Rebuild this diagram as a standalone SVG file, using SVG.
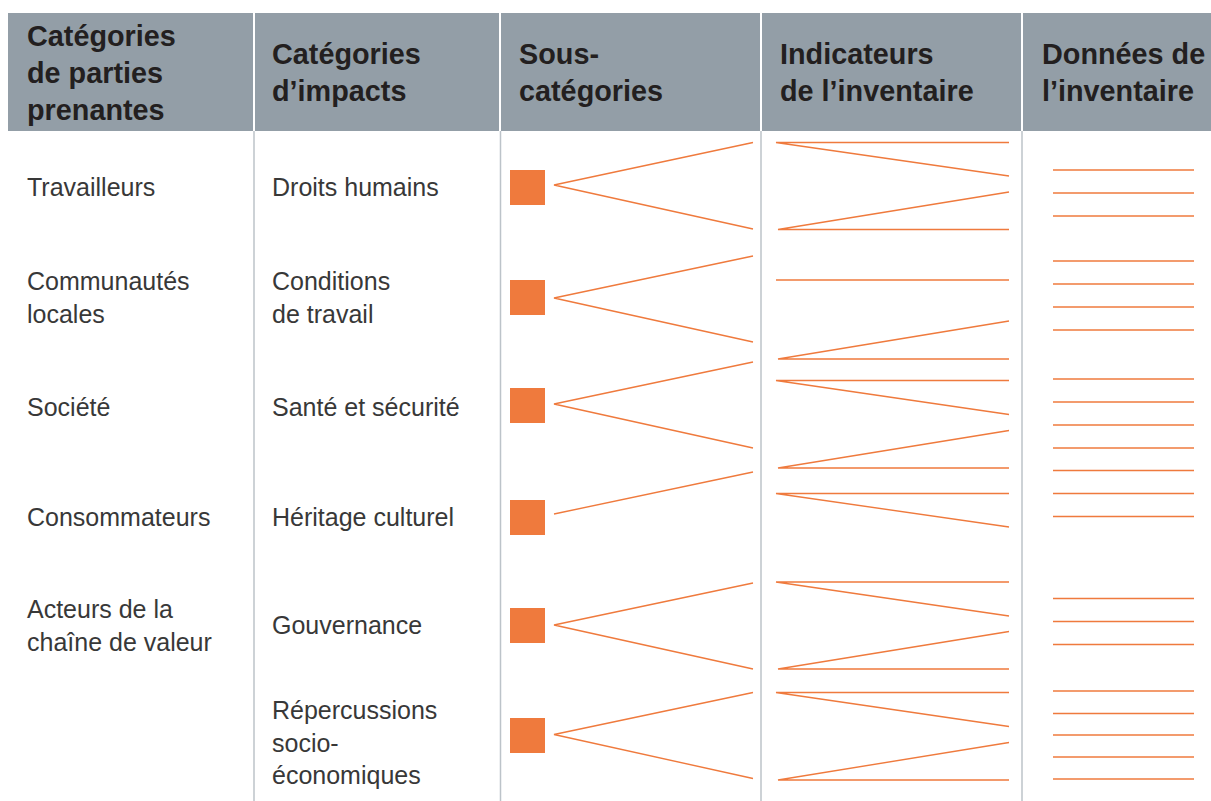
<svg xmlns="http://www.w3.org/2000/svg" width="1211" height="801" viewBox="0 0 1211 801">
<style>
.hd{font-family:"Liberation Sans",Arial,sans-serif;font-weight:bold;font-size:28.8px;fill:#231f20}
.tx{font-family:"Liberation Sans",Arial,sans-serif;font-size:25px;fill:#383838}
.sq{fill:#ef7a3d}
.ln{stroke:#ef7a3d;stroke-width:1.4;fill:none}
.sep{stroke:#bcc3c9;stroke-width:1.5}
</style>
<rect width="1211" height="801" fill="#ffffff"/>
<g id="header">
<rect x="8" y="13" width="1203" height="118" fill="#939ea7"/>
<g stroke="#ffffff" stroke-width="2">
<line x1="254" y1="13" x2="254" y2="131"/>
<line x1="500" y1="13" x2="500" y2="131"/>
<line x1="761" y1="13" x2="761" y2="131"/>
<line x1="1022" y1="13" x2="1022" y2="131"/>
</g>
<text class="hd" x="27" y="46">Catégories</text>
<text class="hd" x="27" y="83">de parties</text>
<text class="hd" x="27" y="120">prenantes</text>
<text class="hd" x="272" y="64">Catégories</text>
<text class="hd" x="272" y="101">d’impacts</text>
<text class="hd" x="519" y="64">Sous-</text>
<text class="hd" x="519" y="101">catégories</text>
<text class="hd" x="780" y="64">Indicateurs</text>
<text class="hd" x="780" y="101">de l’inventaire</text>
<text class="hd" x="1042" y="64">Données de</text>
<text class="hd" x="1042" y="101">l’inventaire</text>
</g>
<g id="separators" class="sep">
<line x1="254" y1="131" x2="254" y2="801"/>
<line x1="500.5" y1="131" x2="500.5" y2="801"/>
<line x1="761" y1="131" x2="761" y2="801"/>
<line x1="1022" y1="131" x2="1022" y2="801"/>
</g>
<g id="stakeholders" class="tx">
<text x="27" y="196">Travailleurs</text>
<text x="27" y="290">Communautés</text>
<text x="27" y="322.5">locales</text>
<text x="27" y="416">Société</text>
<text x="27" y="525.5">Consommateurs</text>
<text x="27" y="618">Acteurs de la</text>
<text x="27" y="650.5">chaîne de valeur</text>
</g>
<g id="impacts" class="tx">
<text x="272" y="196">Droits humains</text>
<text x="272" y="290">Conditions</text>
<text x="272" y="322.5">de travail</text>
<text x="272" y="416">Santé et sécurité</text>
<text x="272" y="525.5">Héritage culturel</text>
<text x="272" y="634">Gouvernance</text>
<text x="272" y="719">Répercussions</text>
<text x="272" y="751.5">socio-</text>
<text x="272" y="784">économiques</text>
</g>
<g id="subcategories">
<rect class="sq" x="510" y="170" width="35" height="35"/>
<rect class="sq" x="510" y="280" width="35" height="35"/>
<rect class="sq" x="510" y="388" width="35" height="35"/>
<rect class="sq" x="510" y="500" width="35" height="35"/>
<rect class="sq" x="510" y="608" width="35" height="35"/>
<rect class="sq" x="510" y="718" width="35" height="35"/>
</g>
<g id="connectors" class="ln">
<polyline points="753,142.5 554,185 753,229"/>
<polyline points="753,256 554,298 753,342"/>
<polyline points="753,362 554,404 753,448"/>
<polyline points="753,472 554,514"/>
<polyline points="753,583 554,625 753,669"/>
<polyline points="753,692.5 554,734.5 753,778.5"/>
</g>
<g id="indicators" class="ln">
<polyline points="1009,142.5 776,142.5 1009,176"/>
<polyline points="1009,192 778,229.5 1009,229.5"/>
<line x1="776" y1="280" x2="1009" y2="280"/>
<polyline points="1009,321 778,359 1009,359"/>
<polyline points="1009,380.5 776,380.5 1009,414.5"/>
<polyline points="1009,430.5 778,468 1009,468"/>
<polyline points="1009,493.5 776,493.5 1009,527"/>
<polyline points="1009,582 776,582 1009,616"/>
<polyline points="1009,631.5 778,669 1009,669"/>
<polyline points="1009,692.5 776,692.5 1009,726.5"/>
<polyline points="1009,742.5 778,780 1009,780"/>
</g>
<g id="data" class="ln">
<line x1="1053" y1="170" x2="1194" y2="170"/>
<line x1="1053" y1="193" x2="1194" y2="193"/>
<line x1="1053" y1="216" x2="1194" y2="216"/>
<line x1="1053" y1="261" x2="1194" y2="261"/>
<line x1="1053" y1="284" x2="1194" y2="284"/>
<line x1="1053" y1="307" x2="1194" y2="307"/>
<line x1="1053" y1="330" x2="1194" y2="330"/>
<line x1="1053" y1="379" x2="1194" y2="379"/>
<line x1="1053" y1="402" x2="1194" y2="402"/>
<line x1="1053" y1="425" x2="1194" y2="425"/>
<line x1="1053" y1="448" x2="1194" y2="448"/>
<line x1="1053" y1="470.5" x2="1194" y2="470.5"/>
<line x1="1053" y1="493.5" x2="1194" y2="493.5"/>
<line x1="1053" y1="516.5" x2="1194" y2="516.5"/>
<line x1="1053" y1="598.5" x2="1194" y2="598.5"/>
<line x1="1053" y1="621.5" x2="1194" y2="621.5"/>
<line x1="1053" y1="644.5" x2="1194" y2="644.5"/>
<line x1="1053" y1="691" x2="1194" y2="691"/>
<line x1="1053" y1="713.5" x2="1194" y2="713.5"/>
<line x1="1053" y1="735" x2="1194" y2="735"/>
<line x1="1053" y1="757" x2="1194" y2="757"/>
<line x1="1053" y1="779" x2="1194" y2="779"/>
</g>
</svg>
